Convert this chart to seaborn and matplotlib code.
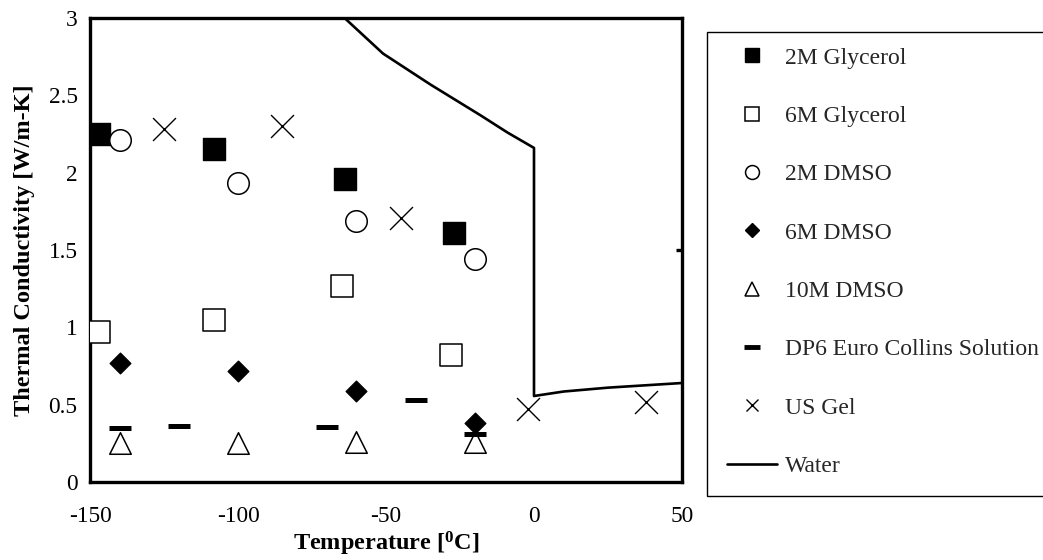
import matplotlib
matplotlib.use("Agg")
import matplotlib.pyplot as plt
from matplotlib.lines import Line2D
from matplotlib.patches import Rectangle
import seaborn as sns
import pandas as pd

# ---- data ----
glyc2_x = [-147, -108, -64, -27]
glyc2_y = [2.25, 2.15, 1.96, 1.61]
glyc6_x = [-147, -108, -65, -28]
glyc6_y = [0.97, 1.05, 1.27, 0.82]
dmso2_x = [-140, -100, -60, -20]
dmso2_y = [2.21, 1.93, 1.69, 1.44]
dmso6_x = [-140, -100, -60, -20]
dmso6_y = [0.77, 0.72, 0.59, 0.38]
dmso10_x = [-140, -100, -60, -20]
dmso10_y = [0.25, 0.25, 0.26, 0.26]
dp6_x = [-140, -120, -70, -40, -20]
dp6_y = [0.35, 0.36, 0.355, 0.53, 0.31]
usgel_x = [-125, -85, -45, -2, 38]
usgel_y = [2.28, 2.30, 1.71, 0.47, 0.52]
water_x = [-64, -51, -35, -18, -9, 0, 0, 10, 25, 50]
water_y = [3.0, 2.77, 2.57, 2.37, 2.26, 2.16, 0.556, 0.585, 0.61, 0.64]

labels = ["2M Glycerol", "6M Glycerol", "2M DMSO", "6M DMSO", "10M DMSO",
          "DP6 Euro Collins Solution", "US Gel", "Water"]
xticks = [-150, -100, -50, 0, 50]
yticks = [0, 0.5, 1, 1.5, 2, 2.5, 3]

sns.set_theme(style="white")
plt.rcParams['font.family'] = ['Liberation Serif', 'DejaVu Serif']
plt.rcParams['mathtext.fontset'] = 'custom'
plt.rcParams['mathtext.rm'] = 'Liberation Serif'
plt.rcParams['mathtext.bf'] = 'Liberation Serif:bold'

W, H = 1043, 560
fig = plt.figure(figsize=(W / 100, H / 100), dpi=100)
ax = fig.add_axes([90 / W, 1 - 482 / H, 592 / W, 464 / H])

blk = "black"
series = [
    (glyc2_x, glyc2_y, "s", 15.5, blk, blk, 1.0),
    (glyc6_x, glyc6_y, "s", 15.5, "white", blk, 1.1),
    (dmso2_x, dmso2_y, "o", 15.5, "white", blk, 1.1),
    (dmso6_x, dmso6_y, "D", 10.5, blk, blk, 1.0),
    (dmso10_x, dmso10_y, "^", 15.5, "white", blk, 1.1),
]
for (xs, ys, m, ms, fc, ec, lw), lab in zip(series, labels[:5]):
    sns.scatterplot(x=xs, y=ys, marker=m, s=ms ** 2, color=fc, edgecolor=ec,
                    linewidth=lw, ax=ax, zorder=3, legend=False)
sns.scatterplot(x=dp6_x, y=dp6_y, marker="_", s=16 ** 2, color=blk,
                linewidth=3.6, ax=ax, zorder=3, legend=False)
sns.scatterplot(x=usgel_x, y=usgel_y, marker="x", s=16.5 ** 2, color=blk,
                linewidth=1.0, ax=ax, zorder=3, legend=False)
sns.lineplot(x=water_x, y=water_y, sort=False, estimator=None, color=blk,
             linewidth=1.9, ax=ax, zorder=2, legend=False)

ax.set_xlim(-150, 50)
ax.set_ylim(0, 3)
ax.set_xticks(xticks)
ax.set_xticklabels([f"{t:g}" for t in xticks])
ax.set_yticks(yticks)
ax.set_yticklabels([f"{t:g}" for t in yticks])
for s in ax.spines.values():
    s.set_visible(True)
    s.set_color(blk)
    s.set_linewidth(2.4)
ax.tick_params(axis="both", direction="in", length=4, width=2.4, colors=blk,
               labelsize=16.8, labelcolor=blk)
ax.tick_params(axis="x", pad=17)
ax.tick_params(axis="y", pad=9)
sec = ax.secondary_yaxis("right")
sec.set_yticks([1.5])
sec.set_yticklabels([""])
sec.tick_params(direction="in", length=4, width=2.4, colors=blk)
sec.spines["right"].set_visible(False)

ax.set_xlabel(r"Temperature [$\mathbf{^{0}}$C]", fontsize=17.5, fontweight="bold",
              color=blk, labelpad=2)
ax.set_ylabel("Thermal Conductivity [W/m-K]", fontsize=17.5, fontweight="bold",
              color=blk, labelpad=9.5)

# legend box
fig.patches.append(Rectangle((707 / W, 1 - 496 / H), (1050 - 707) / W, (496 - 32) / H,
                             transform=fig.transFigure, fill=False, edgecolor=blk,
                             linewidth=1.0, clip_on=False))
handles = [
    Line2D([], [], ls="none", marker="s", ms=10, mfc=blk, mec=blk),
    Line2D([], [], ls="none", marker="s", ms=10, mfc="white", mec=blk, mew=1.1),
    Line2D([], [], ls="none", marker="o", ms=10, mfc="white", mec=blk, mew=1.1),
    Line2D([], [], ls="none", marker="D", ms=7.5, mfc=blk, mec=blk),
    Line2D([], [], ls="none", marker="^", ms=10, mfc="white", mec=blk, mew=1.1),
    Line2D([], [], ls="none", marker="_", ms=11, mec=blk, mew=3.5),
    Line2D([], [], ls="none", marker="x", ms=9, mec=blk, mew=1.0),
    Line2D([], [], ls="-", color=blk, lw=1.9),
]
fig.legend(handles, labels, loc="upper left", bbox_to_anchor=(727 / W, 1 - 47 / H),
           frameon=False, fontsize=17, handlelength=2.12, handletextpad=0.34,
           labelspacing=1.56, borderpad=0, borderaxespad=0)

fig.savefig("out.png", dpi=100)
